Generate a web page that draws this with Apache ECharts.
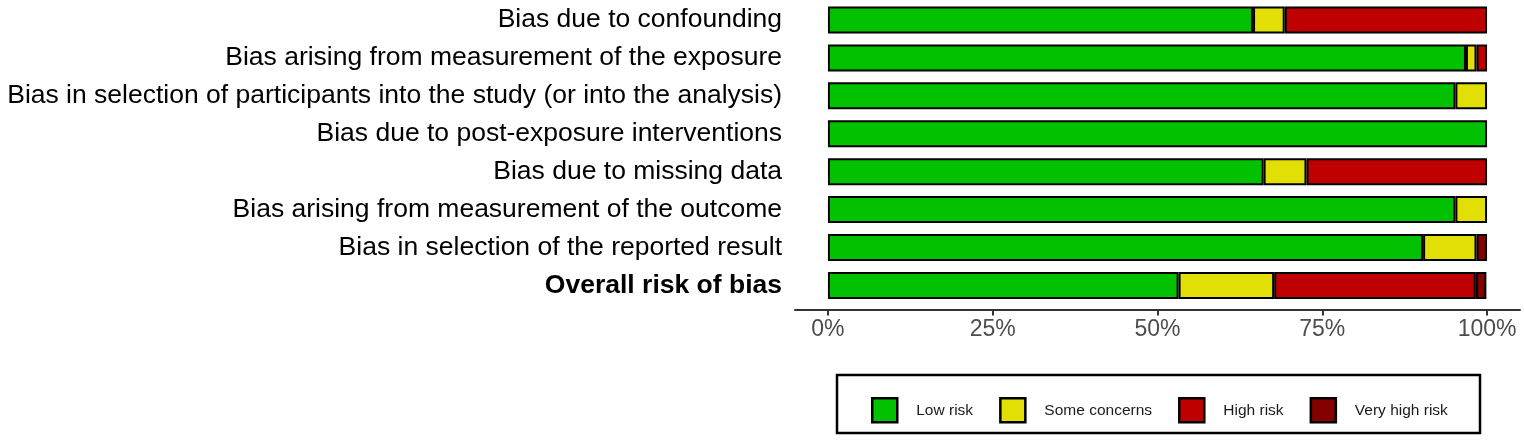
<!DOCTYPE html>
<html>
<head>
<meta charset="utf-8">
<script src="https://cdn.jsdelivr.net/npm/echarts@6/dist/echarts.min.js"></script>
<style>
  html, body { margin: 0; padding: 0; background: #ffffff; }
  #chart { width: 1524px; height: 440px; }
</style>
</head>
<body>
<div id="chart"></div>
<script>
// Domains (top to bottom)
const categories = [
  "Bias due to confounding",
  "Bias arising from measurement of the exposure",
  "Bias in selection of participants into the study (or into the analysis)",
  "Bias due to post-exposure interventions",
  "Bias due to missing data",
  "Bias arising from measurement of the outcome",
  "Bias in selection of the reported result",
  "Overall risk of bias"
];
// Percentages of studies per judgement
const lowRisk       = [64.5, 96.8, 95.2, 100, 66.1, 95.2, 90.3, 53.2];
const someConcerns  = [4.8, 1.6, 4.8, 0, 6.5, 4.8, 8.1, 14.5];
const highRisk      = [30.7, 1.6, 0, 0, 27.4, 0, 0, 30.6];
const veryHighRisk  = [0, 0, 0, 0, 0, 0, 1.6, 1.6];
const tickValues = [0, 25, 50, 75, 100];
const seriesNames = ["Low risk", "Some concerns", "High risk", "Very high risk"];
const seriesColors = ["#02C100", "#E2DF07", "#BF0000", "#820000"];

const seriesData = [lowRisk, someConcerns, highRisk, veryHighRisk];

const chart = echarts.init(document.getElementById('chart'), null, { renderer: 'canvas' });

const option = {
  animation: false,
  backgroundColor: '#ffffff',
  grid: { left: 795, right: 4, top: 1, height: 303.4, containLabel: false },
  xAxis: {
    type: 'value',
    min: -5,
    max: 105,
    offset: 5,
    splitLine: { show: false },
    axisLine: { show: true, lineStyle: { color: '#333333', width: 2 } },
    axisTick: { show: true, inside: false, customValues: tickValues, length: 6, lineStyle: { color: '#333333', width: 2 } },
    axisLabel: {
      customValues: tickValues,
      formatter: '{value}%',
      color: '#4D4D4D',
      fontFamily: 'Liberation Sans',
      fontSize: 23,
      margin: 9
    }
  },
  yAxis: {
    type: 'category',
    inverse: true,
    data: categories.map((c, i) => i === categories.length - 1
      ? { value: c, textStyle: { fontWeight: 'bold' } }
      : c),
    axisLine: { show: false },
    axisTick: { show: false },
    splitLine: { show: false },
    axisLabel: {
      color: '#000000',
      fontFamily: 'Liberation Sans',
      fontSize: 26.5,
      margin: 13
    }
  },
  legend: {
    data: seriesNames,
    left: 866,
    top: 392,
    orient: 'horizontal',
    itemWidth: 25,
    itemHeight: 24,
    itemGap: 26,
    icon: 'rect',
    itemStyle: { borderColor: '#000000', borderWidth: 2.5 },
    textStyle: {
      color: '#1A1A1A',
      fontFamily: 'Liberation Sans',
      fontSize: 15.5,
      padding: [0, 0, 0, 14]
    }
  },
  graphic: [{
    type: 'rect',
    shape: { x: 837, y: 375, width: 643, height: 58 },
    style: { fill: 'none', stroke: '#000000', lineWidth: 2.5 },
    silent: true
  }],
  series: seriesNames.map((name, k) => ({
    name: name,
    type: 'bar',
    stack: 'total',
    barWidth: 27,
    itemStyle: { color: seriesColors[k], borderColor: '#000000', borderWidth: 2 },
    data: seriesData[k].map(v => (v === 0 ? '-' : v))
  }))
};

chart.setOption(option);
</script>
</body>
</html>
